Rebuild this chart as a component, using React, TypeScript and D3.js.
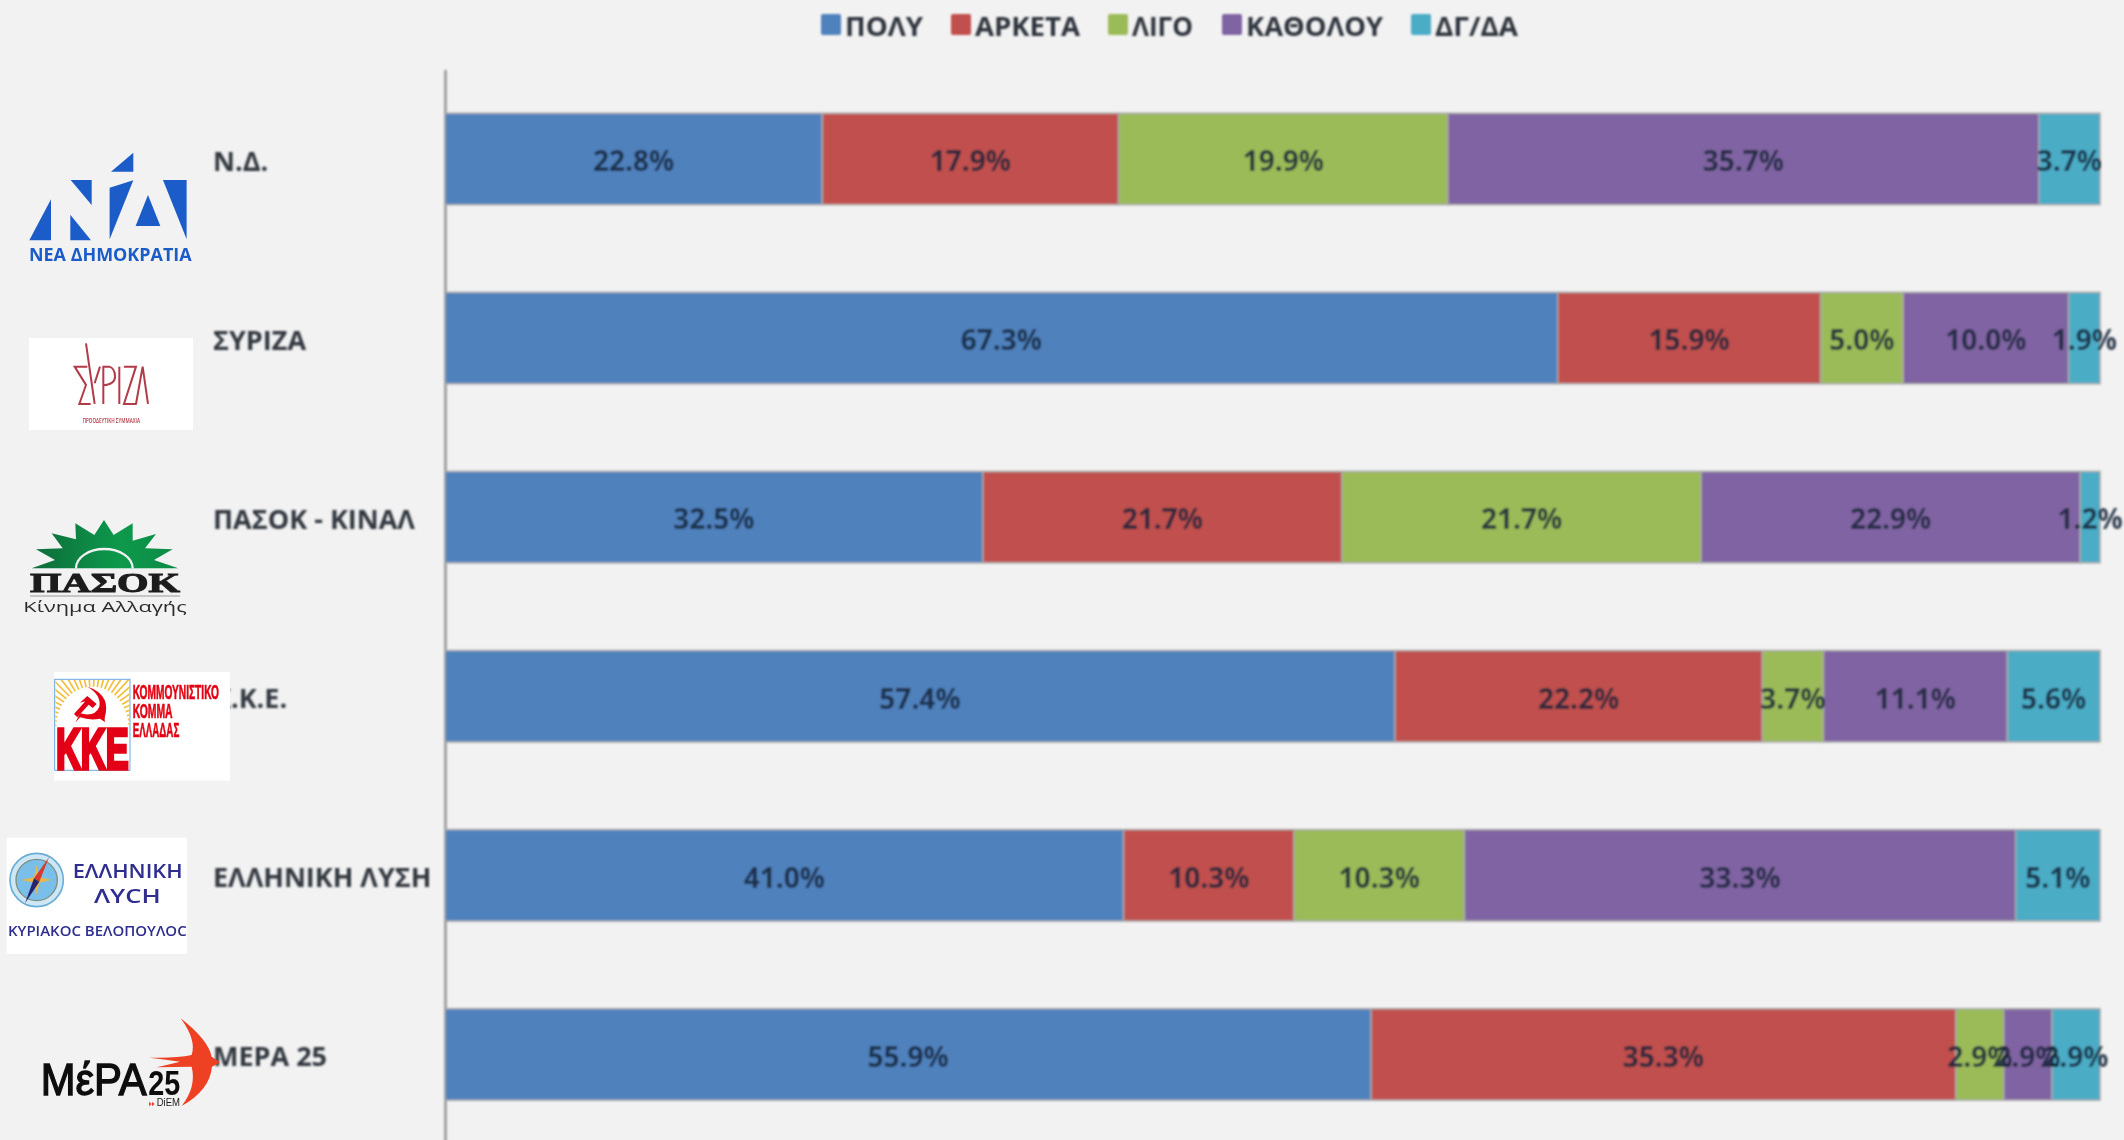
import { useEffect, useRef } from 'react'
import * as d3 from 'd3'

const categories = ['Ν.Δ.', 'ΣΥΡΙΖΑ', 'ΠΑΣΟΚ - ΚΙΝΑΛ', 'Κ.Κ.Ε.', 'ΕΛΛΗΝΙΚΗ ΛΥΣΗ', 'ΜΕΡΑ 25']
const seriesNames = ['ΠΟΛΥ', 'ΑΡΚΕΤΑ', 'ΛΙΓΟ', 'ΚΑΘΟΛΟΥ', 'ΔΓ/ΔΑ']
const seriesColors = ['#4f81bd', '#c0504d', '#9bbb59', '#8064a2', '#4bacc6']

const poly = [22.8, 67.3, 32.5, 57.4, 41.0, 55.9]
const arketa = [17.9, 15.9, 21.7, 22.2, 10.3, 35.3]
const ligo = [19.9, 5.0, 21.7, 3.7, 10.3, 2.9]
const katholou = [35.7, 10.0, 22.9, 11.1, 33.3, 2.9]
const dkDa = [3.7, 1.9, 1.2, 5.6, 5.1, 2.9]

const allSeries = [poly, arketa, ligo, katholou, dkDa]
const rows = categories.map((name, i) => {
    const row: Record<string, any> = { name }
    seriesNames.forEach((s, j) => { row[s] = allSeries[j][i] })
    return row
})

const width = 2124
const height = 1140
const FONT = '"Open Sans", sans-serif'

// legend layout: swatch left edge and text width
const legendX = [821, 951, 1108, 1222, 1411]
const legendW = [78, 105, 61, 137, 83]

const poly2 = (pts: number[][]) => pts.map(p => p.join(',')).join(' ')

function NdLogo() {
    const tris = [
        [[333, 215], [400, 158], [400, 215]],
        [[212, 240], [275, 240], [275, 315]],
        [[88, 421], [153, 298], [153, 421]],
        [[211, 344], [273, 421], [211, 421]],
        [[329, 263], [400, 241], [329, 418]],
        [[444, 285], [481, 378], [407, 378]],
        [[489, 240], [560, 240], [560, 418]],
    ]
    return (
        <g transform="translate(0,100) scale(0.3333)" fill="#1a5cc8">
            {tris.map((t, i) => <polygon key={i} points={poly2(t)} />)}
            <text x={87} y={482} fontFamily={FONT} fontWeight={700} fontSize={52} textLength={488} lengthAdjust="spacingAndGlyphs">ΝΕΑ ΔΗΜΟΚΡΑΤΙΑ</text>
        </g>
    )
}

function SyrizaLogo() {
    return (
        <g transform="translate(0,100) scale(0.3333)">
            <rect x={87} y={714} width={492} height={276} fill="#fff" />
            <g fill="none" stroke="#b23a48" strokeWidth={6}>
                <path d="M262,800 H224 L258,855 L238,912 H272" />
                <path d="M258,730 L284,912 M284,850 L300,800" />
                <path d="M310,912 V800 H328 Q345,805 345,830 Q345,852 310,856" />
                <path d="M358,800 V912" />
                <path d="M372,800 H408 L372,912 H410" />
                <path d="M408,912 L428,800 L444,912" />
            </g>
            <text x={248} y={968} fill="#b23a48" fontFamily={FONT} fontWeight={600} fontSize={22} textLength={172} lengthAdjust="spacingAndGlyphs">ΠΡΟΟΔΕΥΤΙΚΗ ΣΥΜΜΑΧΙΑ</text>
        </g>
    )
}

function PasokLogo() {
    const sun = [[95, 265], [165, 240], [108, 208], [188, 205], [155, 160], [228, 178], [226, 130], [283, 165], [312, 120], [341, 165], [398, 130], [398, 182], [468, 162], [435, 205], [518, 208], [462, 240], [535, 265]]
    return (
        <g transform="translate(0,480) scale(0.3333)">
            <defs>
                <linearGradient id="pasokGreen" x1="0" x2="1" y1="0" y2="0">
                    <stop offset="0" stopColor="#126b38" />
                    <stop offset="0.6" stopColor="#08994c" />
                    <stop offset="1" stopColor="#0b8a45" />
                </linearGradient>
            </defs>
            <polygon points={poly2(sun)} fill="url(#pasokGreen)" />
            <path d="M228,265 A85,58 0 0 1 398,265" fill="none" stroke="#f2f2f2" strokeWidth={7} />
            <text x={90} y={335} fontFamily='"Liberation Serif", serif' fontWeight={700} fontSize={82} fill="#1c1c1c" stroke="#1c1c1c" strokeWidth={3} textLength={450} lengthAdjust="spacingAndGlyphs">ΠΑΣΟΚ</text>
            <line x1={90} x2={540} y1={348} y2={348} stroke="#9a9a9a" strokeWidth={3} />
            <text x={70} y={396} fontFamily={FONT} fontSize={46} fill="#2a2a2a" textLength={490} lengthAdjust="spacingAndGlyphs">Κίνημα Αλλαγής</text>
        </g>
    )
}

function KkeLogo() {
    const rays = d3.range(-88, 89, 6)
    return (
        <g transform="translate(0,480) scale(0.3333)">
            <rect x={162} y={576} width={528} height={326} fill="#fff" />
            <rect x={164} y={598} width={226} height={273} fill="#fff" stroke="#6aa9e0" strokeWidth={3} />
            <clipPath id="kkeBox"><rect x={166} y={600} width={222} height={140} /></clipPath>
            <g clipPath="url(#kkeBox)" stroke="#f3bf3a" strokeWidth={5}>
                {rays.map(a => {
                    const r = (a * Math.PI) / 180
                    return <line key={a} x1={277 + 108 * Math.sin(r)} y1={740 - 120 * Math.cos(r)} x2={277 + 190 * Math.sin(r)} y2={740 - 190 * Math.cos(r)} />
                })}
            </g>
            <g fill="#e30613">
                <path d="M262,620 Q325,640 318,695 Q310,728 318,728 L300,716 Q270,722 240,712 L226,728 L240,700 Q285,712 298,680 Q305,645 262,620Z" />
                <polygon points="240,668 262,648 290,672 278,684 266,674 232,712 222,702 256,664" />
            </g>
            <text x={168} y={866} fill="#e30613" stroke="#e30613" strokeWidth={11} fontFamily='"Liberation Sans", sans-serif' fontWeight={700} fontSize={172} textLength={218} lengthAdjust="spacingAndGlyphs">KKE</text>
            <g fill="#e30613" stroke="#e30613" strokeWidth={2} fontFamily='"Liberation Sans", sans-serif' fontWeight={700} fontSize={62}>
                <text x={398} y={656} textLength={259} lengthAdjust="spacingAndGlyphs">ΚΟΜΜΟΥΝΙΣΤΙΚΟ</text>
                <text x={398} y={714} textLength={120} lengthAdjust="spacingAndGlyphs">ΚΟΜΜΑ</text>
                <text x={398} y={770} textLength={140} lengthAdjust="spacingAndGlyphs">ΕΛΛΑΔΑΣ</text>
            </g>
        </g>
    )
}

function LysiLogo() {
    return (
        <g transform="translate(0,800) scale(0.3333)">
            <rect x={20} y={113} width={541} height={349} fill="#fff" />
            <circle cx={110} cy={240} r={80} fill="#cfe6f4" stroke="#69aed6" strokeWidth={5} />
            <circle cx={110} cy={240} r={62} fill="#79bfe9" stroke="#7d8f80" strokeWidth={4} />
            <polygon points={poly2([[110, 195], [118, 232], [155, 240], [118, 248], [110, 285], [102, 248], [65, 240], [102, 232]])} fill="#e9b64a" />
            <polygon points={poly2([[147, 172], [118, 245], [102, 235]])} fill="#d8382f" />
            <polygon points={poly2([[75, 310], [102, 235], [118, 245]])} fill="#25256f" />
            <g fill="#2e2d8f" fontFamily={FONT} fontWeight={600}>
                <text x={218} y={235} fontSize={60} textLength={330} lengthAdjust="spacingAndGlyphs">ΕΛΛΗΝΙΚΗ</text>
                <text x={282} y={310} fontSize={60} textLength={200} lengthAdjust="spacingAndGlyphs">ΛΥCΗ</text>
                <text x={24} y={409} fontSize={42} textLength={536} lengthAdjust="spacingAndGlyphs">ΚΥΡΙΑΚΟC ΒΕΛΟΠΟΥΛΟC</text>
            </g>
        </g>
    )
}

function MeraLogo() {
    return (
        <g transform="translate(0,800) scale(0.3333)">
            <text x={122} y={886} fontFamily='"Liberation Sans", sans-serif' fontSize={132} fill="#0a0a0a" stroke="#0a0a0a" strokeWidth={4} textLength={318} lengthAdjust="spacingAndGlyphs">ΜέΡΑ</text>
            <text x={445} y={885} fontFamily='"Liberation Sans", sans-serif' fontWeight={700} fontSize={104} fill="#0a0a0a" textLength={96} lengthAdjust="spacingAndGlyphs">25</text>
            <text x={470} y={919} fontFamily='"Liberation Sans", sans-serif' fontSize={30} fill="#222" textLength={70} lengthAdjust="spacingAndGlyphs">DiEM</text>
            <polygon points="447,905 455,912 447,919" fill="#ee3f23" />
            <polygon points="456,905 464,912 456,919" fill="#ee3f23" />
            <path d="M542,655 Q625,720 635,770 L660,787 L636,800 Q630,870 545,918 Q590,860 575,800 Q520,800 470,802 Q520,790 540,785 Q490,778 448,773 Q530,775 575,765 Q590,720 542,655Z" fill="#ee3f23" />
        </g>
    )
}

export default function App() {
    const axisRef = useRef<SVGGElement>(null)

    const x = d3.scaleLinear().domain([0, 1]).range([445, 2100])
    const y = d3.scaleBand().domain(categories).range([69.4, 1144]).paddingInner(0.49).paddingOuter(0.245)
    const color = d3.scaleOrdinal<string>().domain(seriesNames).range(seriesColors)

    // percentages do not always add up to exactly 100, expand like the 100% stacked original
    const stacked = d3.stack().keys(seriesNames).offset(d3.stackOffsetExpand)(rows as any)

    useEffect(() => {
        const axis = d3.select(axisRef.current)
        axis.call(d3.axisLeft(y).tickSize(0) as any)
        axis.select('.domain').attr('stroke', '#a3a3a3').attr('stroke-width', 3)
        axis.selectAll('text')
            .attr('x', 213 - 445)
            .attr('dy', '0.44em')
            .style('text-anchor', 'start')
            .style('font-family', FONT)
            .style('font-weight', 700)
            .style('font-size', '27px')
            .style('fill', '#33383f')
    }, [])

    return (
        <svg width={width} height={height} style={{ position: 'absolute', left: 0, top: 0, display: 'block', background: '#f2f2f2' }}>
            <defs>
                <filter id="soft" x="-5%" y="-5%" width="110%" height="110%">
                    <feGaussianBlur stdDeviation="1" />
                </filter>
                <filter id="softLogo" x="-5%" y="-5%" width="110%" height="110%">
                    <feGaussianBlur stdDeviation="0.5" />
                </filter>
            </defs>

            <g filter="url(#soft)">
                {seriesNames.map((s, i) => (
                    <g key={s}>
                        <rect x={legendX[i]} y={14} width={20} height={21} rx={2} fill={seriesColors[i]} />
                        <text x={legendX[i] + 24} y={36} fontFamily={FONT} fontWeight={700} fontSize={27} fill="#2f343c" textLength={legendW[i]} lengthAdjust="spacingAndGlyphs">{s}</text>
                    </g>
                ))}

                <g ref={axisRef} transform="translate(445,0)" />

                {stacked.map(layer => (
                    <g key={layer.key} fill={color(layer.key)}>
                        {layer.map((d: any) => (
                            <rect
                                key={d.data.name}
                                x={x(d[0])}
                                y={y(d.data.name)}
                                width={x(d[1]) - x(d[0])}
                                height={y.bandwidth()}
                                stroke="#a8a8a8"
                                strokeWidth={1.5}
                            />
                        ))}
                    </g>
                ))}

                {stacked.map(layer => (
                    <g key={layer.key} textAnchor="middle" fontFamily={FONT} fontWeight={700} fontSize={28} fill="#15253a" fillOpacity={0.85}>
                        {layer.map((d: any) => (
                            <text key={d.data.name} x={(x(d[0]) + x(d[1])) / 2} y={y(d.data.name)! + y.bandwidth() / 2} dy="0.44em">
                                {d.data[layer.key].toFixed(1)}%
                            </text>
                        ))}
                    </g>
                ))}
            </g>

            <g filter="url(#softLogo)">
                <NdLogo />
                <SyrizaLogo />
                <PasokLogo />
                <KkeLogo />
                <LysiLogo />
                <MeraLogo />
            </g>
        </svg>
    )
}
